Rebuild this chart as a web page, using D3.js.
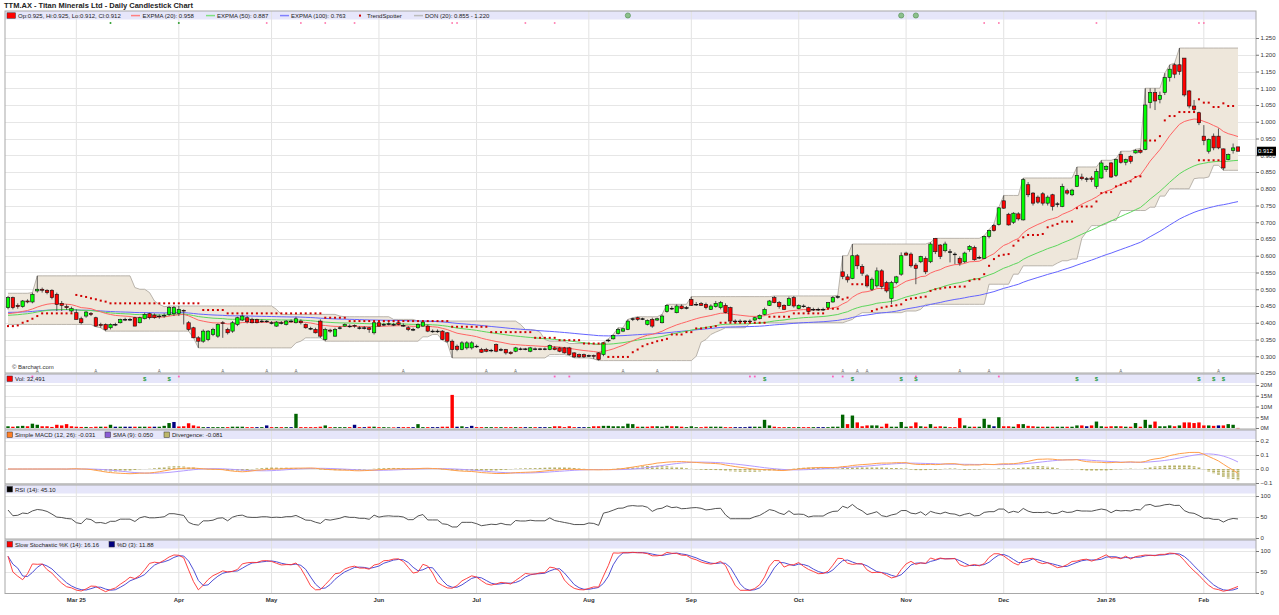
<!DOCTYPE html>
<html>
<head>
<meta charset="utf-8">
<title>TTM.AX - Daily Candlestick Chart</title>
<script src="https://d3js.org/d3.v7.min.js"></script>
<style>
  body { margin: 0; background: #fff; }
  svg text { font-family: "Liberation Sans", Arial, sans-serif; }
</style>
</head>
<body>
<svg id="chart" width="1279" height="615"></svg>
<script>
// ---- data ----
const monthTicks  = [14, 35, 54, 76, 96, 119, 140, 162, 184, 204, 225, 245];
const monthLabels = ["Mar 25", "Apr", "May", "Jun", "Jul", "Aug", "Sep", "Oct", "Nov", "Dec", "Jan 26", "Feb"];

const opens = [
  .445,.475,.452,.448,.465,.462,.495,.50,.497,.497,
  .485,.458,.448,.435,.43,.412,.42,.428,.415,.395,
  .395,.385,.395,.40,.41,.41,.415,.40,.412,.427,
  .423,.42,.42,.425,.427,.428,.437,.40,.385,.355,
  .345,.35,.365,.36,.40,.38,.375,.395,.408,.415,
  .41,.41,.405,.405,.40,.39,.40,.395,.405,.40,
  .405,.395,.383,.38,.405,.35,.378,.36,.385,.39,
  .39,.392,.385,.385,.385,.37,.40,.395,.397,.395,
  .40,.392,.385,.38,.385,.39,.39,.375,.375,.375,
  .37,.345,.33,.32,.325,.325,.33,.32,.32,.318,
  .335,.32,.32,.312,.315,.322,.322,.315,.322,.322,
  .322,.32,.325,.325,.325,.325,.31,.305,.305,.302,
  .302,.31,.305,.348,.352,.368,.375,.38,.412,.415,
  .412,.395,.41,.408,.40,.433,.443,.43,.45,.445,
  .47,.455,.457,.455,.44,.448,.445,.452,.445,.405,
  .405,.405,.405,.408,.412,.425,.452,.475,.46,.452,
  .452,.475,.442,.45,.445,.44,.44,.44,.445,.462,
  .478,.552,.537,.532,.60,.568,.54,.50,.51,.555,
  .52,.472,.52,.545,.608,.605,.572,.582,.592,.582,
  .652,.632,.615,.612,.605,.592,.582,.618,.625,.595,
  .592,.658,.69,.693,.764,.724,.70,.725,.707,.812,
  .787,.775,.785,.757,.782,.755,.747,.794,.782,.807,
  .835,.83,.832,.807,.832,.857,.877,.84,.902,.879,
  .897,.907,.915,.917,1.057,1.087,1.067,1.087,1.132,1.17,
  1.17,1.19,1.092,1.047,1.027,.957,.912,.957,.957,.919,
  .887,.914,.925
];
const highs = [
  .48,.478,.458,.468,.47,.49,.54,.505,.50,.50,
  .49,.465,.455,.448,.44,.418,.435,.432,.418,.40,
  .398,.398,.40,.412,.415,.415,.418,.418,.43,.43,
  .428,.425,.428,.45,.45,.45,.44,.405,.388,.36,
  .38,.378,.385,.398,.405,.385,.405,.418,.425,.42,
  .415,.412,.41,.408,.405,.405,.405,.408,.41,.418,
  .41,.398,.388,.385,.41,.385,.382,.385,.39,.398,
  .395,.395,.39,.39,.388,.402,.405,.40,.402,.40,
  .405,.398,.39,.385,.398,.405,.395,.38,.38,.378,
  .372,.35,.335,.345,.345,.345,.335,.325,.325,.322,
  .338,.325,.322,.315,.328,.326,.325,.328,.326,.325,
  .326,.335,.33,.328,.328,.328,.312,.308,.308,.305,
  .305,.312,.342,.352,.365,.385,.385,.41,.415,.418,
  .415,.41,.415,.415,.425,.455,.45,.455,.455,.45,
  .478,.462,.462,.46,.455,.465,.465,.458,.448,.41,
  .41,.408,.41,.418,.425,.445,.468,.48,.465,.455,
  .478,.48,.455,.455,.448,.445,.445,.445,.462,.48,
  .482,.60,.545,.635,.605,.575,.545,.535,.565,.56,
  .525,.525,.54,.61,.612,.61,.578,.60,.598,.64,
  .652,.635,.642,.62,.61,.598,.612,.632,.63,.60,
  .66,.678,.695,.745,.78,.728,.73,.73,.832,.82,
  .79,.78,.79,.78,.785,.76,.815,.80,.80,.865,
  .845,.835,.838,.86,.885,.87,.88,.89,.912,.89,
  .90,.918,.92,1.10,1.10,1.10,1.09,1.145,1.17,1.175,
  1.22,1.19,1.095,1.065,1.03,.99,.95,.965,.98,.92,
  .905,.935,.925
];
const lows = [
  .44,.44,.442,.445,.458,.458,.49,.49,.485,.47,
  .435,.435,.438,.43,.41,.395,.415,.42,.388,.385,
  .375,.38,.39,.398,.405,.405,.39,.398,.41,.41,
  .412,.412,.415,.42,.42,.42,.395,.375,.355,.325,
  .34,.345,.36,.355,.355,.365,.37,.39,.405,.398,
  .398,.398,.40,.40,.395,.388,.395,.392,.40,.398,
  .395,.382,.378,.368,.355,.345,.37,.358,.38,.388,
  .385,.385,.38,.38,.37,.365,.388,.39,.392,.39,
  .392,.388,.375,.375,.382,.388,.372,.37,.37,.348,
  .34,.295,.315,.318,.32,.32,.325,.31,.312,.312,
  .312,.315,.305,.305,.312,.318,.318,.312,.318,.318,
  .318,.318,.318,.312,.308,.302,.295,.295,.295,.298,
  .292,.287,.30,.342,.35,.365,.372,.378,.405,.405,
  .408,.392,.385,.405,.398,.43,.438,.428,.44,.44,
  .45,.45,.45,.44,.438,.445,.44,.428,.40,.40,
  .40,.40,.40,.405,.41,.422,.45,.458,.442,.438,
  .45,.445,.44,.445,.43,.435,.435,.435,.44,.46,
  .472,.53,.52,.53,.56,.54,.505,.495,.505,.50,
  .49,.455,.515,.54,.60,.565,.515,.578,.545,.578,
  .605,.59,.61,.58,.575,.57,.578,.612,.585,.59,
  .59,.652,.672,.69,.74,.69,.695,.705,.705,.775,
  .75,.755,.75,.75,.735,.745,.745,.782,.778,.805,
  .825,.82,.82,.80,.83,.85,.832,.835,.875,.87,
  .875,.905,.905,.915,1.04,1.035,1.055,1.08,1.12,1.13,
  1.14,1.075,1.04,1.03,.99,.93,.905,.915,.918,.855,
  .885,.905,.912
];
const closes = [
  .475,.445,.448,.465,.462,.485,.50,.497,.49,.475,
  .455,.452,.445,.442,.41,.40,.432,.425,.39,.392,
  .38,.395,.395,.41,.41,.41,.39,.415,.425,.415,
  .415,.418,.422,.445,.445,.44,.435,.38,.355,.345,
  .375,.375,.38,.395,.398,.37,.40,.415,.42,.403,
  .40,.40,.405,.405,.40,.402,.40,.405,.405,.412,
  .40,.385,.383,.37,.36,.38,.375,.38,.385,.395,
  .39,.39,.385,.385,.38,.40,.39,.395,.397,.395,
  .395,.392,.38,.38,.395,.402,.375,.375,.375,.35,
  .345,.32,.32,.34,.34,.34,.33,.312,.315,.318,
  .315,.32,.31,.308,.325,.322,.322,.325,.322,.322,
  .322,.332,.32,.315,.31,.305,.298,.298,.298,.302,
  .30,.29,.34,.348,.362,.38,.382,.405,.412,.41,
  .412,.407,.39,.412,.42,.452,.443,.45,.442,.445,
  .452,.455,.452,.445,.45,.458,.46,.43,.405,.405,
  .405,.405,.405,.415,.422,.44,.465,.46,.448,.44,
  .472,.45,.452,.45,.433,.44,.44,.44,.46,.475,
  .478,.538,.528,.60,.57,.548,.51,.53,.555,.508,
  .495,.52,.537,.60,.602,.57,.562,.598,.552,.635,
  .612,.598,.635,.612,.605,.578,.608,.628,.588,.595,
  .658,.675,.675,.743,.742,.692,.727,.71,.827,.782,
  .757,.76,.757,.775,.747,.755,.807,.787,.796,.84,
  .83,.83,.828,.852,.877,.867,.835,.887,.879,.887,
  .882,.914,.909,1.05,1.087,1.062,1.079,1.132,1.157,1.142,
  1.15,1.08,1.047,1.037,.997,.944,.947,.922,.922,.862,
  .902,.922,.912
];
// volume, millions of shares
const volumes = [
  .8,.6,.8,1.0,.8,2.0,1.5,.8,.8,.5,
  1.5,1.2,1.8,.8,.6,.5,.5,.4,.6,.6,
  .6,1.5,.6,.6,.6,.6,.6,.6,.6,.6,
  .6,.6,1.0,2.3,2.8,.7,.8,2.2,1.2,.7,
  .4,.4,.4,.4,.4,.4,.6,.6,.6,.4,
  .4,.4,.4,1.2,.4,.4,.4,.4,.4,6.6,
  .4,.4,.4,.4,.6,1.2,.4,.4,.4,.4,
  .4,1.5,.4,.4,.6,.6,.4,.4,.3,.3,
  .4,.4,.4,.4,1.8,.4,.4,.4,.4,.6,
  .6,15.4,.6,.8,.4,1.0,.4,.4,.4,.4,
  .4,.4,.4,.4,.4,.4,.4,.4,.4,.4,
  .4,.4,.8,.8,.4,.8,.4,.4,.4,.4,
  .8,.8,1.0,1.0,.8,.8,.8,2.0,1.8,.6,
  .6,.6,.8,.8,.6,1.0,.8,.8,.6,.4,
  .8,.4,.4,.6,.6,.6,.6,.4,.4,.4,
  .4,.4,.6,.6,.6,3.8,1.2,.6,.4,.4,
  .4,.4,.4,.4,.4,.4,.4,.4,.4,.6,
  .6,6.2,1.8,5.8,2.6,.8,1.2,1.2,1.2,.6,
  2.0,.6,.6,2.8,.6,.8,2.6,.8,.6,1.8,
  .6,.8,.6,.4,.4,4.6,1.2,.6,.6,.6,
  4.3,1.5,.8,5.0,.8,.8,.6,1.8,1.8,1.0,
  .8,.6,.6,.6,.6,.6,.6,.6,.6,1.2,
  1.2,.8,1.2,3.0,.8,.6,.8,.8,.8,.6,
  .6,2.3,.6,3.8,1.5,3.0,.8,.8,1.2,.8,
  1.2,2.6,2.6,2.3,2.6,1.2,1.2,1.0,1.2,1.2,
  1.8,1.5,.03
];
// TrendSpotter dots, one per day
const trendSpot = [
  .39,.39,.392,.40,.405,.412,.42,.428,.428,.428,
  .428,.428,.428,.428,.483,.48,.477,.473,.47,.466,
  .463,.458,.458,.458,.458,.458,.458,.458,.458,.458,
  .458,.458,.458,.458,.458,.458,.458,.458,.458,.458,
  .438,.438,.438,.438,.438,.428,.428,.428,.428,.428,
  .428,.428,.428,.428,.428,.428,.428,.428,.428,.428,
  .428,.428,.428,.428,.428,.415,.415,.415,.415,.415,
  .405,.405,.405,.405,.405,.405,.405,.405,.405,.405,
  .405,.405,.405,.405,.405,.405,.405,.405,.405,.405,
  .405,.388,.388,.388,.388,.388,.388,.388,.388,.372,
  .372,.372,.372,.372,.372,.372,.372,.372,.355,.355,
  .355,.355,.355,.348,.348,.348,.348,.348,.338,.338,
  .338,.338,.338,.298,.298,.298,.298,.298,.312,.32,
  .33,.336,.34,.345,.348,.352,.365,.365,.365,.372,
  .372,.383,.383,.385,.387,.39,.40,.40,.40,.40,
  .40,.40,.40,.40,.40,.40,.418,.418,.418,.418,
  .418,.428,.428,.428,.428,.428,.428,.428,.442,.442,
  .442,.47,.475,.515,.515,.515,.515,.435,.44,.445,
  .448,.45,.452,.455,.468,.472,.474,.476,.478,.495,
  .50,.502,.505,.506,.507,.508,.508,.525,.53,.53,
  .545,.57,.59,.60,.603,.605,.63,.645,.655,.662,
  .662,.662,.665,.685,.69,.695,.702,.702,.702,.742,
  .747,.747,.747,.762,.787,.789,.79,.807,.812,.817,
  .822,.835,.837,.944,.944,.944,.957,1.004,1.017,1.017,
  1.029,1.029,1.029,1.029,1.067,1.057,1.057,1.044,1.044,1.055,
  1.047,1.047,null
];
const trendExtra = [[244, .885], [245, .885], [246, .885], [247, .885], [248, .885]];

// indicator seeds (values before the first bar)
const emaSeed = {20: .422, 50: .42, 100: .43};
const donPre = {high: .488, low: .395};
const rsiSeed = {gain: .006, loss: .003};

// event markers (day index)
const evA        = [6, 18, 31, 44, 53, 59, 81, 98, 104, 126, 133, 171, 174, 176, 195, 201, 228, 248];
const evDollar   = [28, 33, 155, 173, 183, 186, 219, 223, 244, 247, 249];
const evPinkLow  = [5, 35, 112, 115, 152, 153, 169, 171, 186, 203];
const evPinkTop  = [53, 60, 65, 71, 91, 92, 106, 112, 200, 203, 223, 244, 245];
const evGreenTop = [21, 35];
const evCircle   = [127, 183, 186];

const priceTicks = [.25,.30,.35,.40,.45,.50,.55,.60,.65,.70,.75,.80,.85,.90,.95,1.00,1.05,1.10,1.15,1.20,1.25];
const volTicks   = [0, 5, 10, 15, 20];
const macdTicks  = [-0.1, 0, 0.1, 0.2];
const pctTicks   = [0, 50, 100];

// ---- indicators ----
function ema(vals, n, seed) {
  const k = 2 / (n + 1);
  let prev = seed;
  return vals.map(v => (prev = prev + k * (v - prev)));
}
function sma(vals, n) {
  return vals.map((v, i) => d3.mean(vals.slice(Math.max(0, i - n + 1), i + 1)));
}
const N = closes.length;
const idx = d3.range(N);
const ema20 = ema(closes, 20, emaSeed[20]);
const ema50 = ema(closes, 50, emaSeed[50]);
const ema100 = ema(closes, 100, emaSeed[100]);

const donUp = idx.map(i => {
  const w = highs.slice(Math.max(0, i - 19), i + 1);
  if (i < 19) w.push(donPre.high);
  return d3.max(w);
});
const donLo = idx.map(i => {
  const w = lows.slice(Math.max(0, i - 19), i + 1);
  if (i < 19) w.push(donPre.low);
  return d3.min(w);
});

const sma12 = sma(closes, 12), sma26 = sma(closes, 26);
const macd = idx.map(i => sma12[i] - sma26[i]);
const signal = sma(macd, 9);
const diverg = idx.map(i => macd[i] - signal[i]);

let ag = rsiSeed.gain, al = rsiSeed.loss;
const rsi = idx.map(i => {
  if (i > 0) {
    const d = closes[i] - closes[i - 1];
    ag = (ag * 13 + Math.max(d, 0)) / 14;
    al = (al * 13 + Math.max(-d, 0)) / 14;
  }
  return 100 - 100 / (1 + ag / al);
});

const fastK = idx.map(i => {
  const lo = d3.min(lows.slice(Math.max(0, i - 13), i + 1));
  const hi = d3.max(highs.slice(Math.max(0, i - 13), i + 1));
  return hi === lo ? 50 : (closes[i] - lo) / (hi - lo) * 100;
});
const slowK = sma(fastK, 3);
const slowD = sma(slowK, 3);

// ---- layout ----
const svg = d3.select("#chart");
const L = 5, R = 1256;
const panels = [
  {name: "main",  top: 11,  band: 19.5,  bottom: 373},
  {name: "vol",   top: 374, band: 383,   bottom: 429},
  {name: "macd",  top: 430, band: 439,   bottom: 484},
  {name: "rsi",   top: 485, band: 493.5, bottom: 539},
  {name: "stoch", top: 540, band: 548.5, bottom: 593.5}
];

const x = d3.scaleLinear().domain([0, N - 1]).range([8, 1238]);
const yP = d3.scaleLinear().domain([0.25, 1.25]).range([373, 38]);
const yV = d3.scaleLinear().domain([0, 20]).range([428, 385]);
const yM = d3.scaleLinear().domain([-0.1, 0.2]).range([483, 441]);
const yR = d3.scaleLinear().domain([0, 100]).range([538, 496]);
const yS = d3.scaleLinear().domain([0, 100]).range([593, 551]);

svg.append("rect").attr("width", 1279).attr("height", 615).attr("fill", "#fff");

// title
svg.append("text")
  .attr("x", 4).attr("y", 8)
  .attr("font-size", 8).attr("font-weight", "bold").attr("fill", "#222")
  .attr("textLength", 189).attr("lengthAdjust", "spacingAndGlyphs")
  .text("TTM.AX - Titan Minerals Ltd - Daily Candlestick Chart");

// panel backgrounds, header bands, month grid
panels.forEach(p => {
  svg.append("rect")
    .attr("x", L).attr("y", p.top).attr("width", R - L).attr("height", p.band - p.top)
    .attr("fill", "#e6e6fa");
  svg.selectAll(null).data(monthTicks).join("line")
    .attr("x1", d => x(d)).attr("x2", d => x(d))
    .attr("y1", p.top).attr("y2", p.bottom)
    .attr("stroke", "#e2e2e2").attr("stroke-width", 1);
});

function hGrid(scale, ticks) {
  svg.append("g").selectAll("line").data(ticks).join("line")
    .attr("x1", L).attr("x2", R)
    .attr("y1", d => Math.round(scale(d)) + 0.5).attr("y2", d => Math.round(scale(d)) + 0.5)
    .attr("stroke", "#e6e6e6");
}
hGrid(yP, priceTicks.slice(1));
hGrid(yV, volTicks.slice(1));
hGrid(yM, macdTicks);
hGrid(yR, [50, 100]);
hGrid(yS, [50, 100]);

// ---- main panel ----
svg.append("defs").append("clipPath").attr("id", "clipMain")
  .append("rect").attr("x", L).attr("y", panels[0].band).attr("width", R - L).attr("height", 373 - panels[0].band);
const gMain = svg.append("g").attr("clip-path", "url(#clipMain)");

gMain.append("path")
  .datum(idx)
  .attr("d", d3.area().x(i => x(i)).y0(i => yP(donLo[i])).y1(i => yP(donUp[i])))
  .attr("fill", "#eee7db");
[donUp, donLo].forEach(s => {
  gMain.append("path").datum(idx)
    .attr("d", d3.line().x(i => x(i)).y(i => yP(s[i])))
    .attr("fill", "none").attr("stroke", "#aaa39a").attr("stroke-width", 0.8);
});

[[ema100, "#6464ff"], [ema50, "#5cd65c"], [ema20, "#ff6464"]].forEach(([s, c]) => {
  gMain.append("path").datum(idx)
    .attr("d", d3.line().x(i => x(i)).y(i => yP(s[i])))
    .attr("fill", "none").attr("stroke", c).attr("stroke-width", 1);
});

const bw = 3.4;
gMain.selectAll("line.wick").data(idx).join("line")
  .attr("class", "wick")
  .attr("x1", i => x(i)).attr("x2", i => x(i))
  .attr("y1", i => yP(highs[i])).attr("y2", i => yP(lows[i]))
  .attr("stroke", "#333").attr("stroke-width", 0.8);
gMain.selectAll("rect.body").data(idx).join("rect")
  .attr("class", "body")
  .attr("x", i => x(i) - bw / 2).attr("width", bw)
  .attr("y", i => yP(Math.max(opens[i], closes[i])))
  .attr("height", i => Math.max(0.7, yP(Math.min(opens[i], closes[i])) - yP(Math.max(opens[i], closes[i]))))
  .attr("fill", i => closes[i] > opens[i] ? "#00ff00" : closes[i] < opens[i] ? "#ff0000" : "#000")
  .attr("stroke", "#111").attr("stroke-width", 0.6);

gMain.selectAll("rect.ts").data(idx.filter(i => trendSpot[i] != null)).join("rect")
  .attr("class", "ts")
  .attr("x", i => x(i) - 1).attr("y", i => yP(trendSpot[i]) - 1)
  .attr("width", 2).attr("height", 2).attr("fill", "#d00000");
gMain.selectAll("rect.ts2").data(trendExtra).join("rect")
  .attr("class", "ts2")
  .attr("x", d => x(d[0]) - 1).attr("y", d => yP(d[1]) - 1)
  .attr("width", 2).attr("height", 2).attr("fill", "#d00000");

svg.append("text").attr("x", 12).attr("y", 368.5).attr("font-size", 6).attr("fill", "#333")
  .text("\u00a9 Barchart.com");

// event markers
svg.selectAll("circle.gt").data(evGreenTop).join("circle")
  .attr("cx", d => x(d)).attr("cy", 23).attr("r", 1).attr("fill", "#2e9e2e");
svg.selectAll("rect.pt").data(evPinkTop).join("rect")
  .attr("x", d => x(d) - 0.8).attr("y", 22.2).attr("width", 1.6).attr("height", 1.6).attr("fill", "#ff6fa8");
svg.selectAll("circle.ci").data(evCircle).join("circle")
  .attr("cx", d => x(d)).attr("cy", 15.5).attr("r", 2.6).attr("fill", "#8cc08c").attr("stroke", "#4c8c4c").attr("stroke-width", 0.6);
svg.selectAll("text.ea").data(evA).join("text")
  .attr("x", d => x(d)).attr("y", 373.2).attr("text-anchor", "middle")
  .attr("font-size", 4.5).attr("fill", "#666").text("A");
svg.selectAll("text.ed").data(evDollar).join("text")
  .attr("x", d => x(d)).attr("y", 381).attr("text-anchor", "middle")
  .attr("font-size", 6).attr("font-weight", "bold").attr("fill", "#1f9a3a").text("$");
svg.selectAll("rect.pl").data(evPinkLow).join("rect")
  .attr("x", d => x(d) - 0.9).attr("y", 375.6).attr("width", 1.8).attr("height", 1.8).attr("fill", "#ff5fb8");

// ---- volume ----
const volColor = i => i === 0 || closes[i] > closes[i - 1] ? "#006400" : closes[i] < closes[i - 1] ? "#ff0000" : "#000080";
svg.append("g").selectAll("rect").data(idx).join("rect")
  .attr("x", i => x(i) - 1.7).attr("width", 3.4)
  .attr("y", i => yV(volumes[i])).attr("height", i => Math.max(0.5, yV(0) - yV(volumes[i])))
  .attr("fill", i => volColor(i));

// ---- MACD ----
svg.append("g").selectAll("line").data(idx).join("line")
  .attr("x1", i => x(i)).attr("x2", i => x(i))
  .attr("y1", yM(0)).attr("y2", i => yM(diverg[i]))
  .attr("stroke", "#b5b064").attr("stroke-width", 2.8).attr("stroke-dasharray", "1.5,0.6");
[[signal, "#b49bff"], [macd, "#ff9f4a"]].forEach(([s, c]) => {
  svg.append("path").datum(idx)
    .attr("d", d3.line().x(i => x(i)).y(i => yM(s[i])))
    .attr("fill", "none").attr("stroke", c).attr("stroke-width", 1);
});

// ---- RSI ----
svg.append("path").datum(idx)
  .attr("d", d3.line().x(i => x(i)).y(i => yR(rsi[i])))
  .attr("fill", "none").attr("stroke", "#404040").attr("stroke-width", 0.9);

// ---- Stochastic ----
[[slowD, "#3b3bd0"], [slowK, "#ff3030"]].forEach(([s, c]) => {
  svg.append("path").datum(idx)
    .attr("d", d3.line().x(i => x(i)).y(i => yS(s[i])))
    .attr("fill", "none").attr("stroke", c).attr("stroke-width", 0.9);
});

// ---- frames ----
panels.forEach(p => {
  svg.append("rect")
    .attr("x", L).attr("y", p.top).attr("width", R - L).attr("height", p.bottom - p.top)
    .attr("fill", "none").attr("stroke", "#a8a8a8").attr("stroke-width", 1);
});

// ---- right axes ----
function rightAxis(scale, ticks, fmt) {
  const g = svg.append("g").attr("transform", `translate(${R},0)`)
    .call(d3.axisRight(scale).tickValues(ticks).tickSize(3).tickPadding(1.5).tickFormat(fmt));
  g.select(".domain").remove();
  g.selectAll("line").attr("stroke", "#777");
  g.selectAll("text").attr("font-size", 6).attr("fill", "#333").attr("font-family", "Liberation Sans, Arial, sans-serif");
}
rightAxis(yP, priceTicks, d3.format(".3f"));
rightAxis(yV, volTicks, d => d + "M");
rightAxis(yM, macdTicks, d3.format(".1f"));
rightAxis(yR, pctTicks, d3.format("d"));
rightAxis(yS, pctTicks, d3.format("d"));

// last price box
const lastY = yP(closes[N - 1]);
svg.append("rect").attr("x", R + 1).attr("y", lastY - 4.5).attr("width", 19).attr("height", 9).attr("fill", "#000");
svg.append("text").attr("x", R + 2).attr("y", lastY + 2.2).attr("font-size", 6).attr("fill", "#fff")
  .text(d3.format(".3f")(closes[N - 1]));

// month labels
svg.append("g").selectAll("text").data(monthTicks).join("text")
  .attr("x", d => x(d)).attr("y", 601.5).attr("text-anchor", "middle")
  .attr("font-size", 6).attr("font-weight", "bold").attr("fill", "#333")
  .text((d, i) => monthLabels[i]);

// ---- legends ----
function legBox(x0, y0, color) {
  svg.append("rect").attr("x", x0).attr("y", y0).attr("width", 5.5).attr("height", 5.5)
    .attr("fill", color).attr("stroke", "#333").attr("stroke-width", 0.5);
}
function legLine(x0, y0, color) {
  svg.append("line").attr("x1", x0).attr("x2", x0 + 9).attr("y1", y0).attr("y2", y0)
    .attr("stroke", color).attr("stroke-width", 1.5);
}
function legText(x0, y0, t) {
  svg.append("text").attr("x", x0).attr("y", y0).attr("font-size", 6).attr("fill", "#222").text(t);
}
svg.append("rect").attr("x", 7).attr("y", 12.8).attr("width", 8.5).attr("height", 5.5)
  .attr("fill", "#ff0000").attr("stroke", "#333").attr("stroke-width", 0.5);
legText(18, 17.7, "Op:0.925, Hi:0.925, Lo:0.912, Cl:0.912");
legLine(131, 15.6, "#ff8080"); legText(142.5, 17.7, "EXPMA (20): 0.958");
legLine(206, 15.6, "#80e080"); legText(217, 17.7, "EXPMA (50): 0.887");
legLine(280, 15.6, "#8080ff"); legText(291, 17.7, "EXPMA (100): 0.763");
svg.append("rect").attr("x", 359).attr("y", 14.6).attr("width", 2).attr("height", 2).attr("fill", "#d00000");
legText(367, 17.7, "TrendSpotter");
legLine(414, 15.6, "#bbbbbb"); legText(425, 17.7, "DON (20): 0.855 - 1.220");

legBox(7, 376, "#ff0000"); legText(15, 381.2, "Vol: 32,491");
legBox(7, 432, "#ff7f27"); legText(15, 437.2, "Simple MACD (12, 26): -0.031");
legBox(105, 432, "#8a5cd6"); legText(113, 437.2, "SMA (9): 0.050");
legBox(164, 432, "#bdb76b"); legText(172, 437.2, "Divergence: -0.081");
legBox(7, 486.5, "#000"); legText(15, 491.7, "RSI (14): 45.10");
legBox(7, 541.5, "#ff0000"); legText(15, 546.7, "Slow Stochastic %K (14): 16.16");
legBox(109, 541.5, "#000080"); legText(117, 546.7, "%D (3): 11.88");
</script>
</body>
</html>
